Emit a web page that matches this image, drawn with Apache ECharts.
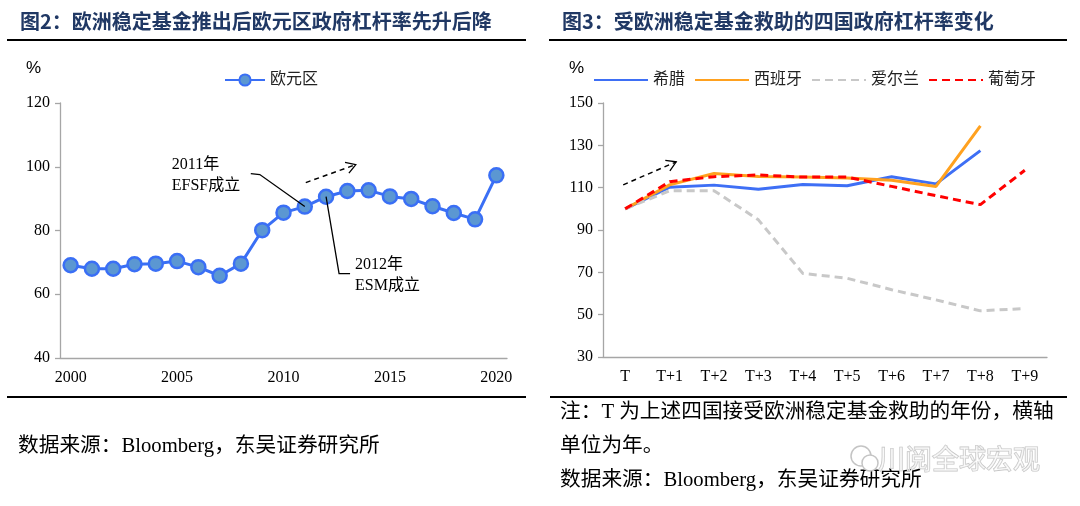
<!DOCTYPE html>
<html><head><meta charset="utf-8">
<script src="https://cdn.jsdelivr.net/npm/echarts@6/dist/echarts.min.js"></script>
<style>html,body{margin:0;padding:0;background:#fff;}#c{width:1080px;height:506px;}</style>
</head><body><div id="c"></div>
<script>
// ---- data ----
const years = ['2000','2001','2002','2003','2004','2005','2006','2007','2008','2009','2010','2011','2012','2013','2014','2015','2016','2017','2018','2019','2020'];
const euroArea = [69.1,68.0,68.0,69.4,69.6,70.4,68.5,65.8,69.6,80.1,85.6,87.5,90.6,92.4,92.6,90.7,89.9,87.6,85.5,83.5,97.3];
const tLabels = ['T','T+1','T+2','T+3','T+4','T+5','T+6','T+7','T+8','T+9'];
const greece   = [100,110.2,111.2,109.3,111.5,110.9,115.2,111.8,127.5,null];
const spain    = [100,111.3,116.7,115.3,115.0,114.6,113.5,110.6,139.2,null];
const ireland  = [100,108.5,108.6,94.8,69.5,67.2,61.8,57.0,51.8,52.9];
const portugal = [100,112.8,115.2,116.0,115.0,115.0,110.6,106.2,102.0,118.2];
const leftYTicks = [40,60,80,100,120];
const rightYTicks = [30,50,70,90,110,130,150];
const title1 = '图2：欧洲稳定基金推出后欧元区政府杠杆率先升后降';
const title2 = '图3：受欧洲稳定基金救助的四国政府杠杆率变化';

const FONT = '"Liberation Serif","Noto Sans CJK SC",serif';
const navy = '#203864';
const axisGray = '#a6a6a6';

const chart = echarts.init(document.getElementById('c'), null, {renderer:'canvas'});

const baseX = {
  type:'category', boundaryGap:true,
  axisLine:{lineStyle:{color:axisGray,width:1.3}},
  axisTick:{lineStyle:{color:axisGray,width:1.3},length:5},
  axisLabel:{color:'#000',fontFamily:FONT,fontSize:16,margin:12},
  splitLine:{show:false}
};
const baseY = {
  type:'value',
  axisLine:{show:true,lineStyle:{color:axisGray,width:1.3}},
  axisTick:{show:true,lineStyle:{color:axisGray,width:1.3},length:5},
  axisLabel:{color:'#000',fontFamily:FONT,fontSize:16,margin:10},
  splitLine:{show:false}
};

const option = {
  animation:false,
  grid:[
    {left:60,top:103,width:447,height:255},
    {left:603,top:103,width:444,height:254}
  ],
  xAxis:[
    Object.assign({},baseX,{gridIndex:0,data:years,
      axisTick:Object.assign({},baseX.axisTick,{interval:4}),
      axisLabel:Object.assign({},baseX.axisLabel,{interval:4})}),
    Object.assign({},baseX,{gridIndex:1,data:tLabels,
      axisLabel:Object.assign({},baseX.axisLabel,{interval:0})})
  ],
  yAxis:[
    Object.assign({},baseY,{gridIndex:0,min:leftYTicks[0],max:leftYTicks[leftYTicks.length-1],interval:20}),
    Object.assign({},baseY,{gridIndex:1,min:rightYTicks[0],max:rightYTicks[rightYTicks.length-1],
      axisLabel:Object.assign({},baseY.axisLabel,{customValues:rightYTicks}),
      axisTick:Object.assign({},baseY.axisTick,{customValues:rightYTicks})})
  ],
  legend:[
    {left:219,top:67,itemWidth:40,itemHeight:14,data:['欧元区'],
     textStyle:{fontFamily:FONT,fontSize:16,color:'#222'}},
    {left:588,top:67,itemWidth:54,itemHeight:14,itemGap:9,data:['希腊','西班牙','爱尔兰','葡萄牙'],
     itemStyle:{opacity:0},
     textStyle:{fontFamily:FONT,fontSize:16,color:'#222'}}
  ],
  series:[
    {name:'欧元区',type:'line',xAxisIndex:0,yAxisIndex:0,data:euroArea,
     symbol:'circle',symbolSize:14,
     itemStyle:{color:'#5b97d2',borderColor:'#3a6ff5',borderWidth:2.5},
     lineStyle:{color:'#3a6ff5',width:3},z:3},
    {name:'希腊',type:'line',xAxisIndex:1,yAxisIndex:1,data:greece,showSymbol:false,symbol:'none',
     itemStyle:{color:'#3e6ff5'},lineStyle:{color:'#3e6ff5',width:3}},
    {name:'西班牙',type:'line',xAxisIndex:1,yAxisIndex:1,data:spain,showSymbol:false,symbol:'none',
     itemStyle:{color:'#ffa11f'},lineStyle:{color:'#ffa11f',width:3}},
    {name:'爱尔兰',type:'line',xAxisIndex:1,yAxisIndex:1,data:ireland,showSymbol:false,symbol:'none',
     itemStyle:{color:'#c8c8c8'},lineStyle:{color:'#c8c8c8',width:3,type:[8,5]}},
    {name:'葡萄牙',type:'line',xAxisIndex:1,yAxisIndex:1,data:portugal,showSymbol:false,symbol:'none',
     itemStyle:{color:'#ff0000'},lineStyle:{color:'#ff0000',width:3,type:[8,5]}}
  ]
};
chart.setOption(option);

// ---- annotations (anchored to data points) ----
function arrow(x1,y1,x2,y2){
  const a = Math.atan2(y2-y1,x2-x1), L = 11, w = 0.55;
  return [
    {type:'line',shape:{x1,y1,x2,y2},style:{stroke:'#000',lineWidth:1.5,lineDash:[5,4]}},
    {type:'polyline',shape:{points:[[x2-L*Math.cos(a-w),y2-L*Math.sin(a-w)],[x2,y2],[x2-L*Math.cos(a+w),y2-L*Math.sin(a+w)]]},
     style:{stroke:'#000',lineWidth:1.3,fill:null}}
  ];
}
const p11 = chart.convertToPixel({xAxisIndex:0,yAxisIndex:0},['2011',euroArea[11]]);
const p12 = chart.convertToPixel({xAxisIndex:0,yAxisIndex:0},['2012',euroArea[12]]);
const pT  = chart.convertToPixel({xAxisIndex:1,yAxisIndex:1},['T',portugal[0]]);

const txt = (x,y,t,s)=>({type:'text',x,y,style:Object.assign({text:t,fill:'#000',font:'16px '+FONT,textVerticalAlign:'middle'},s||{})});
const NOTE = '20.7px '+FONT;

const g = [
  // titles
  txt(20,21,title1,{fill:navy,font:'bold 20px "Noto Sans CJK SC"'}),
  txt(562,21,title2,{fill:navy,font:'bold 20px "Noto Sans CJK SC"'}),
  {type:'line',shape:{x1:7,y1:40,x2:526,y2:40},style:{stroke:'#000',lineWidth:2}},
  {type:'line',shape:{x1:549,y1:40,x2:1067,y2:40},style:{stroke:'#000',lineWidth:2}},
  {type:'line',shape:{x1:7,y1:397,x2:526,y2:397},style:{stroke:'#000',lineWidth:2}},
  {type:'line',shape:{x1:550,y1:397,x2:1067,y2:397},style:{stroke:'#000',lineWidth:2}},
  // % units
  txt(26,68,'%',{font:'17px "Liberation Sans",sans-serif'}),
  txt(569,68,'%',{font:'17px "Liberation Sans",sans-serif'}),
  // EFSF
  {type:'polyline',shape:{points:[[p11[0]-54,p11[1]-33],[p11[0]-45,p11[1]-32],[p11[0],p11[1]]]},style:{stroke:'#000',lineWidth:1.3,fill:null},z:10},
  txt(p11[0]-133,p11[1]-42,'2011年'),
  txt(p11[0]-133,p11[1]-21,'EFSF成立'),
  // ESM
  {type:'polyline',shape:{points:[[p12[0],p12[1]],[p12[0]+13,p12[1]+77],[p12[0]+24,p12[1]+77]]},style:{stroke:'#000',lineWidth:1.3,fill:null},z:10},
  txt(p12[0]+29,p12[1]+68,'2012年'),
  txt(p12[0]+29,p12[1]+89,'ESM成立'),
  // arrows
  ...arrow(p11[0]+1,p11[1]-24,p11[0]+51,p11[1]-42),
  ...arrow(pT[0]-2,pT[1]-24,pT[0]+51,pT[1]-47),
  // notes
  txt(18,447,'数据来源：Bloomberg，东吴证券研究所',{font:NOTE}),
  txt(560,413,'注：T 为上述四国接受欧洲稳定基金救助的年份，横轴',{font:NOTE}),
  txt(560,447,'单位为年。',{font:NOTE}),
  txt(560,481,'数据来源：Bloomberg，东吴证券研究所',{font:NOTE}),
  // watermark
  txt(878,459,'川阅全球宏观',{font:'27px "Noto Sans CJK SC"',fill:'rgba(255,255,255,0.6)',stroke:'#c4c4c4',lineWidth:1.2}),
  {type:'circle',shape:{cx:861,cy:456,r:10},style:{fill:null,stroke:'#c4c4c4',lineWidth:1.5}},
  {type:'circle',shape:{cx:870,cy:463,r:8},style:{fill:'#fff',stroke:'#c4c4c4',lineWidth:1.5}}
];
chart.setOption({graphic:{elements:g.map(e=>Object.assign({z:100},e))}});
</script></body></html>
